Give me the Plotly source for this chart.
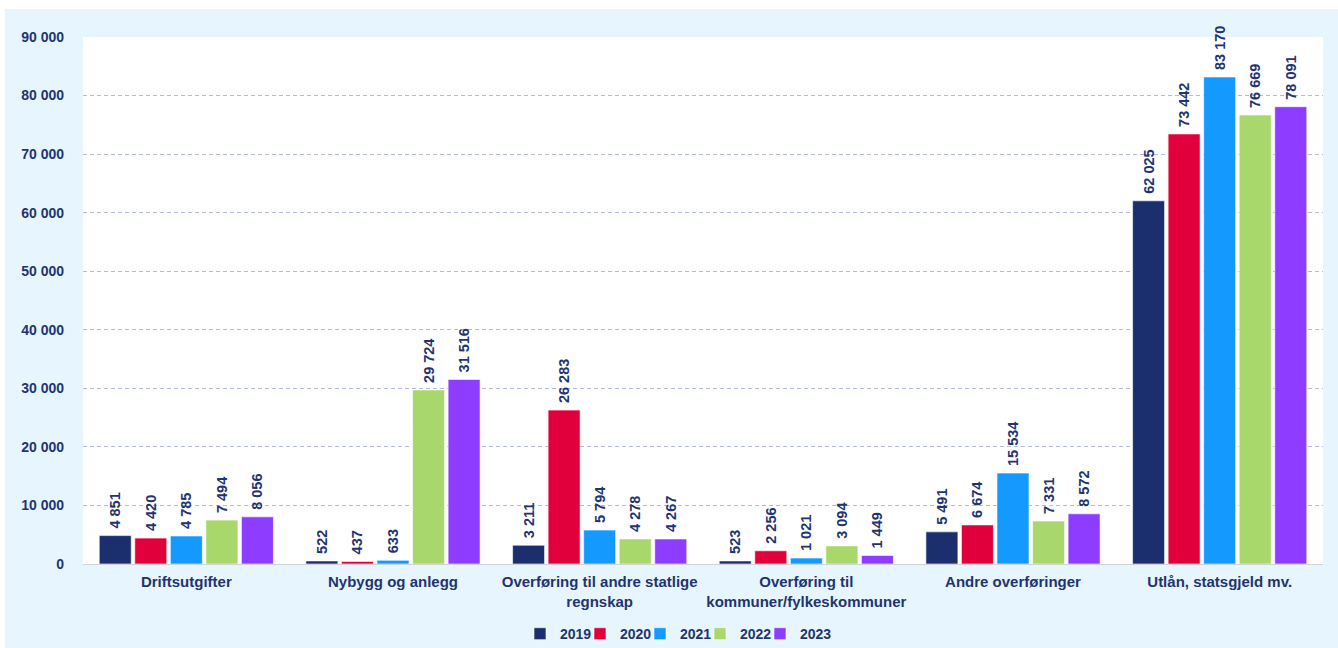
import plotly.graph_objects as go

categories = [
    "Driftsutgifter",
    "Nybygg og anlegg",
    "Overføring til andre statlige<br>regnskap",
    "Overføring til<br>kommuner/fylkeskommuner",
    "Andre overføringer",
    "Utlån, statsgjeld mv.",
]

years = ["2019", "2020", "2021", "2022", "2023"]

values_2019 = [4851, 522, 3211, 523, 5491, 62025]
values_2020 = [4420, 437, 26283, 2256, 6674, 73442]
values_2021 = [4785, 633, 5794, 1021, 15534, 83170]
values_2022 = [7494, 29724, 4278, 3094, 7331, 76669]
values_2023 = [8056, 31516, 4267, 1449, 8572, 78091]

series = [values_2019, values_2020, values_2021, values_2022, values_2023]
colors = ["#1B2F6E", "#E2003C", "#1499FF", "#A8D86B", "#8E3CFF"]

text_color = "#1F3470"
panel_bg = "#E7F6FE"
font_family = "Liberation Sans, Arial, sans-serif"

PLOT_LEFT, PLOT_WIDTH = 83, 1240

fig = go.Figure()
legend_ids = ["legend", "legend2", "legend3", "legend4", "legend5"]
for year, vals, col, lid in zip(years, series, colors, legend_ids):
    fig.add_trace(go.Bar(
        name=f"<b>{year}</b>",
        x=categories,
        y=vals,
        legend=lid,
        marker=dict(color=col, line=dict(color="rgba(255,255,255,0.6)", width=1)),
        texttemplate="\u00a0<b>%{y:,d}</b>",
        textposition="outside",
        textangle=-90,
        constraintext="none",
        cliponaxis=False,
        textfont=dict(size=14.5, color=text_color, family=font_family),
    ))

# one single-entry legend per year, laid out in a row under the axis
legend_layout = {}
for i, lid in enumerate(legend_ids):
    left_px = 520 + 60 * i
    legend_layout[lid] = dict(
        orientation="h",
        x=(left_px - PLOT_LEFT) / PLOT_WIDTH,
        xanchor="left",
        y=-0.133,
        yanchor="middle",
        font=dict(size=14, color=text_color, family=font_family),
        itemwidth=30,
        bgcolor="rgba(0,0,0,0)",
    )

fig.update_layout(
    width=1338,
    height=648,
    barmode="group",
    bargap=0.14,
    bargroupgap=0.1,
    separators=", ",
    paper_bgcolor=panel_bg,
    plot_bgcolor="white",
    margin=dict(l=83, r=15, t=37, b=84, autoexpand=False),
    font=dict(family=font_family, color=text_color, size=14),
    showlegend=True,
    shapes=[
        # white strip along the top and left edge of the page
        dict(type="rect", xref="paper", yref="paper",
             x0=-0.2, x1=1.1, y0=1.0 + 28 / 527, y1=1.2,
             fillcolor="white", line=dict(width=0), layer="below"),
        dict(type="rect", xref="paper", yref="paper",
             x0=-0.2, x1=-78 / 1240, y0=-0.3, y1=1.2,
             fillcolor="white", line=dict(width=0), layer="below"),
    ],
    **legend_layout,
)

fig.update_xaxes(
    showline=True,
    linecolor="#D3D3D3",
    linewidth=1,
    ticks="",
    ticklabelstandoff=4,
    tickfont=dict(size=15, color=text_color, family=font_family),
    tickprefix="<b>",
    ticksuffix="</b>",
)

fig.update_yaxes(
    range=[0, 90000],
    tick0=0,
    dtick=10000,
    tickformat=",d",
    tickprefix="<b>",
    ticksuffix="</b>",
    showgrid=True,
    gridcolor="#B3BBD5",
    griddash="4px,3px",
    gridwidth=1,
    zeroline=True,
    zerolinecolor="#D3D3D3",
    zerolinewidth=1,
    ticks="",
    ticklabelstandoff=18,
    tickfont=dict(size=14, color=text_color, family=font_family),
)

fig.write_html("out.html")
